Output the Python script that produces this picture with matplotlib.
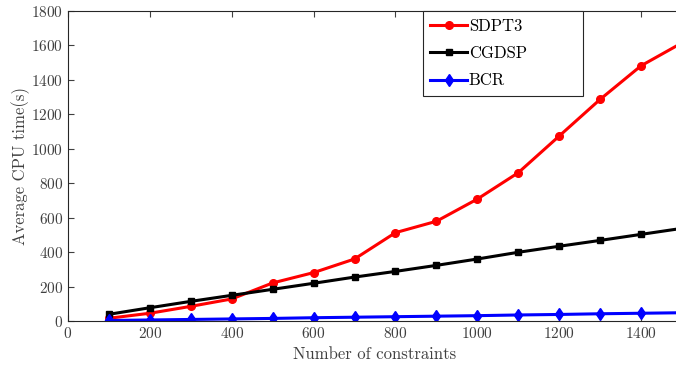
import matplotlib
matplotlib.use("Agg")
import matplotlib.pyplot as plt

plt.rcParams['font.family'] = 'serif'
plt.rcParams['font.serif'] = ['cmr10']
plt.rcParams['mathtext.fontset'] = 'cm'
plt.rcParams['axes.formatter.use_mathtext'] = True

x = [100, 200, 300, 400, 500, 600, 700, 800, 900, 1000, 1100, 1200, 1300, 1400, 1500]
sdpt3 = [16, 45, 85, 128, 221, 281, 360, 513, 579, 708, 861, 1074, 1287, 1482, 1615]
cgdsp = [39, 77, 114, 149, 184, 219, 255, 288, 323, 360, 399, 434, 468, 503, 538]
bcr = [3, 6, 9, 12, 15, 19, 22, 25, 28, 31, 35, 38, 42, 45, 48]
xticks = [0, 200, 400, 600, 800, 1000, 1200, 1400]
yticks = [0, 200, 400, 600, 800, 1000, 1200, 1400, 1600, 1800]

W, H = 676, 367
fig = plt.figure(figsize=(W/100, H/100), dpi=100)
ax = fig.add_axes([68/W, 1-321/H, (682-68)/W, (321-11)/H])

ax.plot(x, sdpt3, color='#ff0000', lw=2.2, marker='o', ms=5.5, label='SDPT3')
ax.plot(x, cgdsp, color='black', lw=2.2, marker='s', ms=5, label='CGDSP')
ax.plot(x, bcr, color='#0000ff', lw=2.2, marker='d', ms=6, label='BCR')

ax.set_xlim(0, 1500)
ax.set_ylim(0, 1800)
ax.set_xticks(xticks)
ax.set_yticks(yticks)
ax.tick_params(direction='in', top=True, right=True, labelsize=11, colors='#404040', labelcolor='#404040', length=4)
for s in ax.spines.values():
    s.set_color('#262626')
    s.set_linewidth(0.8)
ax.set_xlabel('Number of constraints', fontsize=12, color='#404040', labelpad=4)
ax.set_ylabel('Average CPU time(s)', fontsize=12, color='#404040', labelpad=1)

leg = ax.legend(loc='upper left', bbox_to_anchor=(0.578, 0.0, (583-423)/614, 1.0), mode='expand',
                fancybox=False, edgecolor='#262626',
                fontsize=12, handlelength=2.2, handletextpad=0.1, borderaxespad=0, labelspacing=0.72,
                borderpad=0.45, framealpha=1)
leg.get_frame().set_linewidth(0.8)

fig.savefig('out.png', dpi=100)
